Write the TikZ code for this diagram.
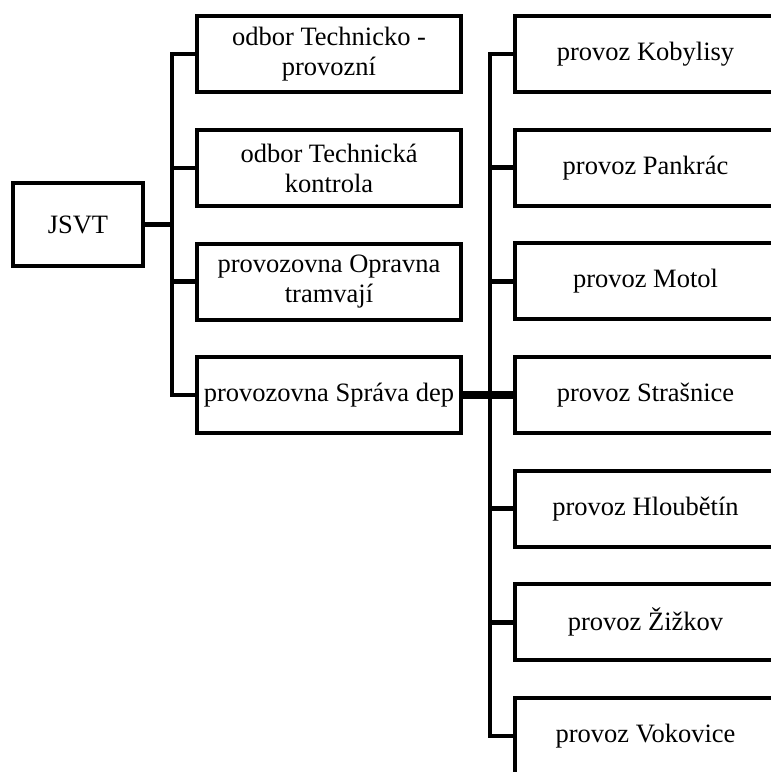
\documentclass[tikz,border=0pt]{standalone}
\usepackage{fontspec}
\setmainfont{Liberation Serif}
\begin{document}
\begin{tikzpicture}[x=1pt,y=-1pt,
  orgbox/.style={draw=black,line width=4pt,fill=white,rectangle,inner sep=0pt,
    align=center,font=\fontsize{26.5}{30}\selectfont},
  rootbox/.style={orgbox,minimum width=130pt,minimum height=83pt},
  midbox/.style={orgbox,minimum width=264pt,minimum height=76pt},
  depbox/.style={orgbox,minimum width=261pt,minimum height=76pt},
  wire/.style={draw=black,line width=4.5pt,line cap=rect,line join=miter}]
\useasboundingbox (0,0) rectangle (771,772);
\clip (0,0) rectangle (771,772);
\fill[white] (0,0) rectangle (771,772);

% bus coordinates
\coordinate (busA) at (172,54);
\coordinate (busB) at (490,54);

% connectors (drawn first, boxes cover the ends)
\draw[wire] (172,54) -- (172,395);
\draw[wire] (490,54) -- (490,736);

% root
\node[rootbox] (jsvt) at (78,224.5) {JSVT};

% second level
\node[midbox] (m1) at (329,54)    {odbor Technicko -\\provozní};
\node[midbox] (m2) at (329,168)   {odbor Technická\\kontrola};
\node[midbox] (m3) at (329,281.5) {provozovna Opravna\\tramvají};
\node[midbox] (m4) at (329,395)   {provozovna Správa dep};

% depots
\node[depbox] (d1) at (645.5,54)    {provoz Kobylisy};
\node[depbox] (d2) at (645.5,167.7) {provoz Pankrác};
\node[depbox] (d3) at (645.5,281.3) {provoz Motol};
\node[depbox] (d4) at (645.5,395)   {provoz Strašnice};
\node[depbox] (d5) at (645.5,508.7) {provoz Hloubětín};
\node[depbox] (d6) at (645.5,622.3) {provoz Žižkov};
\node[depbox] (d7) at (645.5,736)   {provoz Vokovice};

% stubs
\draw[wire,line cap=butt] (jsvt.east) -- (jsvt.east -| busA);
\foreach \n in {m1,m2,m3,m4}
  \draw[wire,line cap=butt] (\n.west) -- (\n.west -| busA);
\foreach \n in {d1,d2,d3,d5,d6,d7}
  \draw[wire,line cap=butt] (\n.west) -- (\n.west -| busB);
\draw[wire,line cap=butt,line width=7.5pt] (m4.east) -- (d4.west);
\end{tikzpicture}
\end{document}
